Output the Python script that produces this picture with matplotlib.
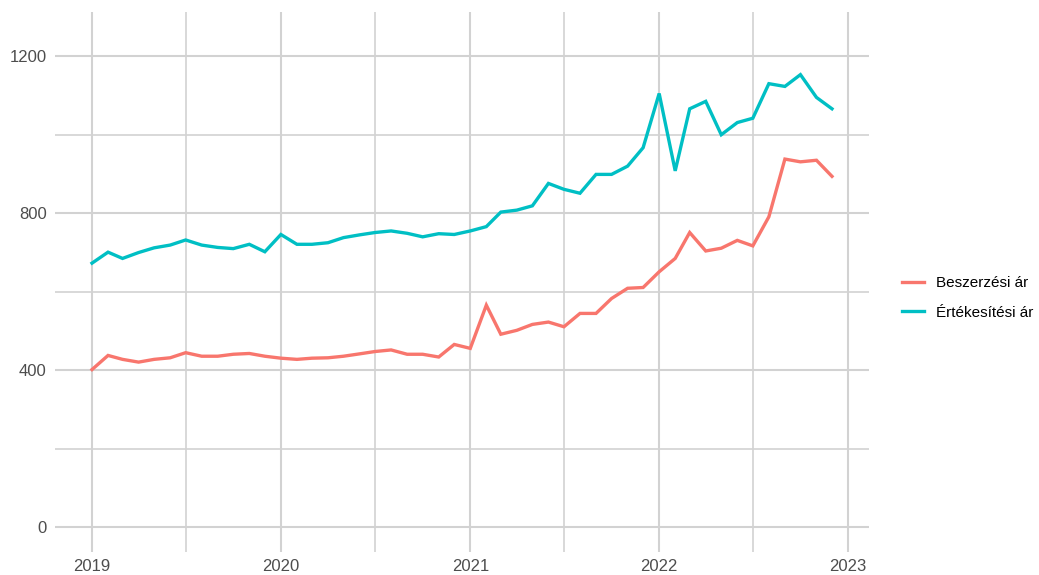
import matplotlib
matplotlib.use('Agg')
import matplotlib.pyplot as plt
import matplotlib.dates as mdates
import pandas as pd

# monthly prices, 2019-01 .. 2022-12
months = pd.date_range("2019-01-01", "2022-12-01", freq="MS")

beszerzesi = [402, 438, 428, 421, 428, 432, 445, 436, 436, 441, 443, 436,
              431, 428, 431, 432, 436, 442, 448, 452, 441, 441, 434, 466,
              456, 566, 492, 502, 517, 523, 511, 545, 545, 583, 609, 611,
              651, 685, 751, 704, 711, 731, 717, 791, 938, 931, 935, 894]

ertekesitesi = [673, 701, 685, 700, 712, 719, 732, 719, 713, 710, 721, 702,
                746, 721, 721, 725, 738, 745, 751, 755, 749, 740, 748, 746,
                755, 766, 803, 808, 819, 876, 861, 851, 899, 899, 920, 967,
                1105, 908, 1066, 1085, 1000, 1031, 1042, 1130, 1123, 1153, 1095, 1066]

series_names = ["Beszerzési ár", "Értékesítési ár"]
series_colors = ["#F8766D", "#00BFC4"]

plt.rcParams['font.family'] = ['Liberation Sans', 'DejaVu Sans']

fig = plt.figure(figsize=(10.39, 5.75), dpi=100)
ax = fig.add_axes([55 / 1039, 1 - 552 / 575, (869 - 55) / 1039, (552 - 12) / 575])

for vals, name, col in zip([beszerzesi, ertekesitesi], series_names, series_colors):
    ax.plot(months, vals, color=col, lw=2.4, label=name, solid_joinstyle='miter')

# ggplot-style 5% expansion
pad = pd.Timedelta(days=71.5)
ax.set_xlim(months[0] - pad, months[-1] + pad)
ax.set_ylim(-62.5, 1312.5)

ax.xaxis.set_major_locator(mdates.YearLocator())
ax.xaxis.set_major_formatter(mdates.DateFormatter('%Y'))
ax.xaxis.set_minor_locator(mdates.MonthLocator(bymonth=7))
ax.set_yticks([0, 400, 800, 1200])
ax.set_yticks([200, 600, 1000], minor=True)

ax.grid(True, which='major', color='#D2D2D2', lw=1.5)
ax.grid(True, which='minor', color='#D2D2D2', lw=1.2)
ax.set_axisbelow(True)
for s in ax.spines.values():
    s.set_visible(False)
ax.tick_params(which='both', length=0, labelsize=12, labelcolor='#4D4D4D')
ax.tick_params(axis='x', pad=5)
ax.tick_params(axis='y', pad=6)

fig.legend(loc='center left', bbox_to_anchor=(902 / 1039, 1 - 298 / 575),
           frameon=False, fontsize=11, handlelength=1.45, labelspacing=1.0,
           handletextpad=0.8, borderpad=0, borderaxespad=0)

plt.savefig("out.png", dpi=100)
plt.close()
